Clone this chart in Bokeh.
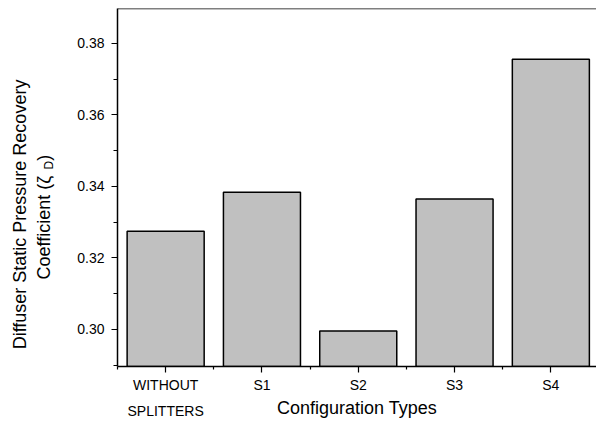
import math
from bokeh.plotting import figure
from bokeh.models import Range1d, FixedTicker, NumeralTickFormatter, Label, Span
from bokeh.embed import file_html
from bokeh.resources import INLINE

categories = ["WITHOUT SPLITTERS", "S1", "S2", "S3", "S4"]
tick_labels = ["WITHOUT\nSPLITTERS", "S1", "S2", "S3", "S4"]
values = [0.3275, 0.3384, 0.2996, 0.3365, 0.3756]
y_ticks = [0.30, 0.32, 0.34, 0.36, 0.38]
y_minor = [0.29, 0.31, 0.33, 0.35, 0.37, 0.39]

FONT = "Liberation Sans"
xs = list(range(1, len(categories) + 1))

p = figure(width=596, height=421, output_backend="svg", toolbar_location=None,
           x_range=Range1d(0.5, 5.474), y_range=Range1d(0.28965, 0.38979),
           min_border_left=117, min_border_right=0, min_border_top=8, min_border_bottom=55)
p.outline_line_color = None
p.grid.visible = False
p.background_fill_color = "white"
p.border_fill_color = "white"

p.vbar(x=xs, top=values, bottom=0.28, width=0.8, fill_color="#c0c0c0",
       line_color="black", line_width=1.5)

top_line = Span(location=0.38979, dimension="width", line_color="black", line_width=1.5)
p.add_layout(top_line)

xa = p.xaxis[0]
xa.ticker = FixedTicker(ticks=xs, minor_ticks=[x - 0.5 for x in xs] + [xs[-1] + 0.5])
xa.major_label_overrides = {x: t for x, t in zip(xs, tick_labels)}
xa.major_label_text_font = FONT
xa.major_label_text_font_size = "14px"
xa.major_label_text_line_height = 1.68
xa.major_label_text_color = "black"
xa.major_label_standoff = 4
xa.major_tick_out = 6
xa.major_tick_in = 0
xa.minor_tick_out = 3
xa.minor_tick_in = 0
xa.axis_line_width = 1.5
xa.major_tick_line_width = 1.2
xa.minor_tick_line_width = 1.2
xa.axis_label = "Configuration Types"
xa.axis_label_text_font = FONT
xa.axis_label_text_font_size = "18px"
xa.axis_label_text_font_style = "normal"
xa.axis_label_text_color = "black"
xa.axis_label_standoff = -24

ya = p.yaxis[0]
ya.ticker = FixedTicker(ticks=y_ticks, minor_ticks=y_minor)
ya.formatter = NumeralTickFormatter(format="0.00")
ya.major_label_text_font = FONT
ya.major_label_text_font_size = "14px"
ya.major_label_text_color = "black"
ya.major_label_standoff = 7
ya.major_tick_out = 6
ya.major_tick_in = 0
ya.minor_tick_out = 4
ya.minor_tick_in = 0
ya.axis_line_width = 1.5
ya.major_tick_line_width = 1.2
ya.minor_tick_line_width = 1.2

def lab(**kw):
    base = dict(text_font=FONT, text_color="black", angle=math.pi / 2,
                text_baseline="middle")
    base.update(kw)
    p.add_layout(Label(**base), "left")

# Y title, placed in the left side panel (positions in the plot's coordinates)
lab(x=-0.5073, y=0.33217, text="Diffuser Static Pressure Recovery",
    text_font_size="18px", text_align="center")
lab(x=-0.2684, y=0.31399, text="Coefficient (\u03b6", text_font_size="18px", text_align="left")
lab(x=-0.2165, y=0.34476, text="D", text_font_size="12px", text_align="left")
lab(x=-0.2684, y=0.34719, text=")", text_font_size="18px", text_align="left")

open("out.html", "w").write(file_html(p, INLINE))
